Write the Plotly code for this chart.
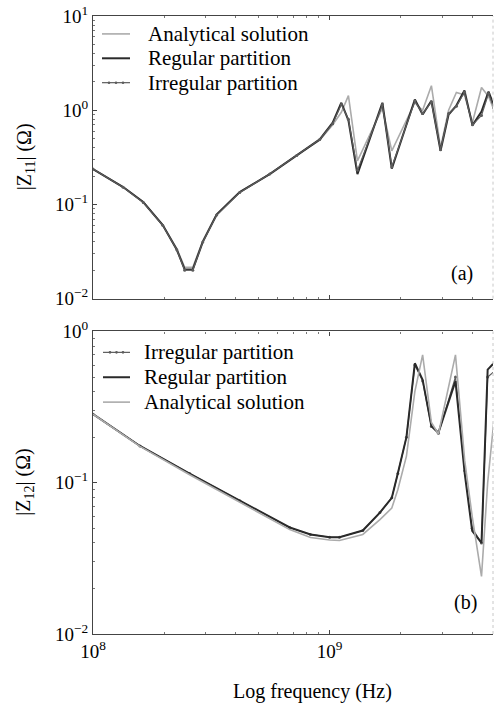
import plotly.graph_objects as go

# ---------------- data ----------------
f_top = [1.00e8, 1.34e8, 1.63e8, 1.97e8, 2.26e8, 2.44e8, 2.64e8, 2.91e8, 3.33e8, 4.17e8,
         5.58e8, 7.26e8, 9.08e8, 1.03e9, 1.12e9, 1.20e9, 1.31e9, 1.67e9, 1.83e9, 2.29e9,
         2.47e9, 2.69e9, 2.94e9, 3.18e9, 3.43e9, 3.71e9, 4.01e9, 4.38e9, 4.69e9, 4.95e9]
z11_analytical = [0.237, 0.153, 0.106, 0.061, 0.034, 0.0215, 0.0215, 0.041, 0.079, 0.136,
                  0.21, 0.333, 0.48, 0.70, 0.95, 1.43, 0.29, 1.05, 0.37, 1.20,
                  1.00, 1.82, 0.40, 1.00, 1.54, 1.45, 0.74, 1.74, 1.40, 1.00]
z11_regular = [0.237, 0.153, 0.106, 0.0605, 0.033, 0.0204, 0.0204, 0.040, 0.078, 0.135,
               0.21, 0.333, 0.49, 0.74, 1.20, 0.78, 0.21, 1.20, 0.24, 1.30,
               0.90, 1.26, 0.37, 0.90, 1.12, 1.62, 0.69, 0.97, 1.58, 1.10]
z11_irregular = [0.237, 0.152, 0.105, 0.060, 0.033, 0.0200, 0.0200, 0.040, 0.077, 0.134,
                 0.21, 0.33, 0.49, 0.72, 1.15, 0.80, 0.23, 1.15, 0.25, 1.25,
                 0.92, 1.22, 0.38, 0.92, 1.10, 1.55, 0.70, 0.88, 1.50, 1.05]

f_bot = [1.00e8, 1.58e8, 2.56e8, 4.17e8, 6.78e8, 8.30e8, 1.00e9, 1.10e9, 1.38e9, 1.63e9,
         1.83e9, 1.94e9, 2.11e9, 2.29e9, 2.47e9, 2.69e9, 2.88e9, 3.40e9, 3.72e9, 4.00e9,
         4.38e9, 4.65e9, 5.00e9]
z12_irregular = [0.284, 0.175, 0.115, 0.076, 0.0506, 0.0455, 0.0436, 0.0436, 0.0483, 0.0635,
                 0.0795, 0.115, 0.20, 0.60, 0.47, 0.235, 0.212, 0.50, 0.12, 0.050,
                 0.040, 0.50, 0.55]
z12_regular = [0.284, 0.175, 0.115, 0.076, 0.0506, 0.0455, 0.0436, 0.0436, 0.0483, 0.0635,
               0.0795, 0.115, 0.20, 0.616, 0.48, 0.237, 0.214, 0.47, 0.115, 0.048,
               0.040, 0.56, 0.63]
z12_analytical = [0.284, 0.174, 0.113, 0.074, 0.0490, 0.0435, 0.0418, 0.0415, 0.0455, 0.057,
                  0.068, 0.090, 0.150, 0.40, 0.70, 0.25, 0.21, 0.70, 0.14, 0.060,
                  0.024, 0.10, 0.31]

x_major = [1e8, 1e9]
x_major_text = ["10<sup>8</sup>", "10<sup>9</sup>"]
y1_major = [0.01, 0.1, 1, 10]
y1_major_text = ["10<sup>\u22122</sup>", "10<sup>\u22121</sup>", "10<sup>0</sup>", "10<sup>1</sup>"]
y2_major = [0.01, 0.1, 1]
y2_major_text = ["10<sup>\u22122</sup>", "10<sup>\u22121</sup>", "10<sup>0</sup>"]

legend_top = ["Analytical solution", "Regular partition", "Irregular partition"]
legend_bot = ["Irregular partition", "Regular partition", "Analytical solution"]

# ---------------- styles ----------------
FONT = "Liberation Serif"
C_ANA = "#ababab"
C_REG = "#2a2a2a"
C_IRR = "#5c5c5c"
STYLE = {
    "Analytical solution": dict(color=C_ANA, width=1.6, dots=False),
    "Regular partition": dict(color=C_REG, width=2.0, dots=False),
    "Irregular partition": dict(color=C_IRR, width=1.2, dots=True),
}

x_minor = [m * 10 ** e for e in (8, 9) for m in range(2, 10) if m * 10 ** e < 5e9]
y1_minor = [m * 10 ** e for e in (-2, -1, 0) for m in range(2, 10)]
y2_minor = [m * 10 ** e for e in (-2, -1) for m in range(2, 10)]

# plot-area pixel geometry
L, R, T, B = 93, 3, 13, 72
W, H = 496, 706
PW, PH = W - L - R, H - T - B


def px_x(p):
    return (p - L) / PW


def px_y(p):
    return (H - B - p) / PH


fig = go.Figure()


def add_series(x, y, name, xa, ya):
    s = STYLE[name]
    fig.add_trace(go.Scatter(
        x=x, y=y, name=name, mode="lines+markers" if s["dots"] else "lines",
        line=dict(color=s["color"], width=s["width"]),
        marker=dict(size=3, color=s["color"]),
        xaxis=xa, yaxis=ya, showlegend=False))


add_series(f_top, z11_analytical, "Analytical solution", "x", "y")
add_series(f_top, z11_regular, "Regular partition", "x", "y")
add_series(f_top, z11_irregular, "Irregular partition", "x", "y")
add_series(f_bot, z12_irregular, "Irregular partition", "x2", "y2")
add_series(f_bot, z12_regular, "Regular partition", "x2", "y2")
add_series(f_bot, z12_analytical, "Analytical solution", "x2", "y2")

tickfont = dict(family=FONT, size=19, color="black")
axis_common = dict(type="log", ticks="inside", ticklen=4, tickcolor="#444", showline=True,
                   linecolor="#444", linewidth=1.2, showgrid=False, zeroline=False, tickfont=tickfont)

x_range = [8, 9.69]
top_dom = [px_y(297), 1.0]
bot_dom = [0.0, px_y(330)]

fig.update_layout(
    width=W, height=H,
    margin=dict(l=L, r=R, t=T, b=B),
    paper_bgcolor="white", plot_bgcolor="white",
    font=dict(family=FONT, size=19, color="black"),
    showlegend=False,
    xaxis=dict(axis_common, domain=[0, 1], anchor="y", range=x_range, mirror="ticks",
               tickvals=x_major, ticktext=x_major_text, showticklabels=False,
               minor=dict(tickvals=x_minor, ticks="inside", ticklen=2, tickcolor="#777")),
    yaxis=dict(axis_common, domain=top_dom, anchor="x", range=[-2, 1],
               tickvals=y1_major, ticktext=y1_major_text,
               minor=dict(tickvals=y1_minor, ticks="inside", ticklen=2, tickcolor="#777")),
    xaxis2=dict(axis_common, domain=[0, 1], anchor="y2", range=x_range, mirror="ticks",
                tickvals=x_major, ticktext=x_major_text,
                minor=dict(tickvals=x_minor, ticks="inside", ticklen=2, tickcolor="#777")),
    yaxis2=dict(axis_common, domain=bot_dom, anchor="x2", range=[-2, 0],
                tickvals=y2_major, ticktext=y2_major_text,
                minor=dict(tickvals=y2_minor, ticks="inside", ticklen=2, tickcolor="#777")),
)

# right edge (faint, cropped frame)
for dom in (top_dom, bot_dom):
    fig.add_shape(type="line", xref="paper", yref="paper", x0=1, x1=1, y0=dom[0], y1=dom[1],
                  line=dict(color="#c8c8c8", width=1, dash="dot"))


# legends drawn as keys + text
def draw_legend(names, x0, x1, xt, y_first, step):
    for i, name in enumerate(names):
        s = STYLE[name]
        yp = px_y(y_first + i * step)
        fig.add_shape(type="line", xref="paper", yref="paper", x0=px_x(x0), x1=px_x(x1),
                      y0=yp, y1=yp, line=dict(color=s["color"], width=s["width"]))
        if s["dots"]:
            for xd in (x0 + 7, (x0 + x1) / 2, x1 - 7):
                fig.add_shape(type="circle", xref="paper", yref="paper",
                              x0=px_x(xd - 1.3), x1=px_x(xd + 1.3),
                              y0=yp - 1.3 / PH, y1=yp + 1.3 / PH,
                              line=dict(width=0), fillcolor=s["color"])
        fig.add_annotation(xref="paper", yref="paper", x=px_x(xt), y=yp, text=name,
                           showarrow=False, xanchor="left", yanchor="middle",
                           font=dict(family=FONT, size=21, color="black"))


draw_legend(legend_top, 102, 130, 146, 31, 24.5)
draw_legend(legend_bot, 103, 130, 142, 351, 25)

annots = [
    dict(text="|Z<sub>11</sub>| (\u03a9)", x=px_x(25), y=(top_dom[0] + top_dom[1]) / 2, textangle=-90),
    dict(text="|Z<sub>12</sub>| (\u03a9)", x=px_x(25), y=(bot_dom[0] + bot_dom[1]) / 2, textangle=-90),
    dict(text="(a)", x=px_x(462), y=px_y(272)),
    dict(text="(b)", x=px_x(465), y=px_y(602)),
    dict(text="Log frequency (Hz)", x=px_x(312), y=px_y(692)),
]
for a in annots:
    fig.add_annotation(xref="paper", yref="paper", showarrow=False, xanchor="center", yanchor="middle",
                       font=dict(family=FONT, size=20, color="black"), **a)

fig.write_html("out.html")
